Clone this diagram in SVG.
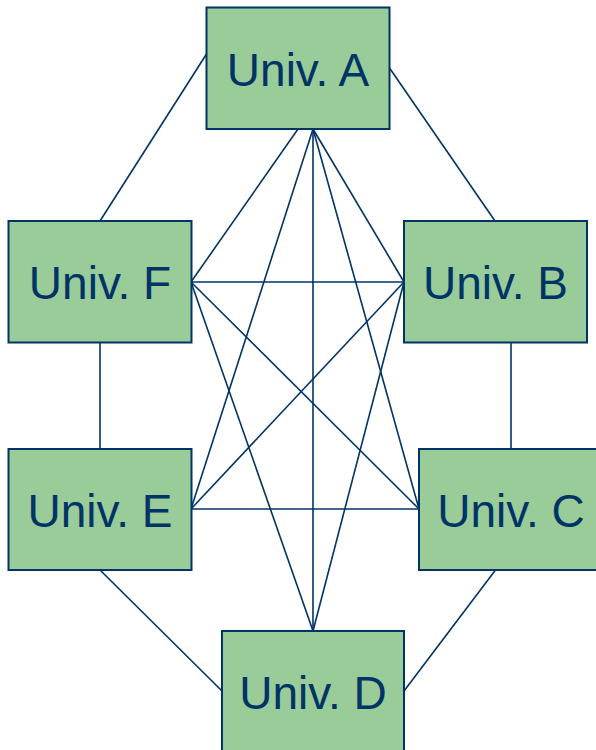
<svg xmlns="http://www.w3.org/2000/svg" width="596" height="750" viewBox="0 0 596 750">
<style>
.box{fill:#99CC99;stroke:#003366;stroke-width:2}
.lbl{font-family:"Liberation Sans",Arial,sans-serif;font-size:46px;fill:#003366;text-anchor:middle}
.ln{stroke:#003366;stroke-width:1.6;fill:none}
</style>
<rect width="596" height="750" fill="#FFFFFF"/>
<g id="connectors" class="ln">
<line x1="206.5" y1="54" x2="100" y2="221"/>
<line x1="389.5" y1="68" x2="495" y2="221"/>
<line x1="100" y1="342.5" x2="100" y2="449"/>
<line x1="511" y1="342" x2="511" y2="449"/>
<line x1="100" y1="570" x2="222" y2="691"/>
<line x1="495.5" y1="570" x2="404" y2="691"/>
<line x1="313" y1="129" x2="191" y2="509"/>
<line x1="313" y1="129" x2="313" y2="631"/>
<line x1="313" y1="129" x2="419" y2="509"/>
<line x1="313" y1="129" x2="404" y2="282"/>
<line x1="298" y1="129" x2="191" y2="282"/>
<line x1="191" y1="282" x2="404" y2="282"/>
<line x1="191" y1="282" x2="419" y2="509"/>
<line x1="191" y1="282" x2="313" y2="631"/>
<line x1="404" y1="282" x2="191" y2="509"/>
<line x1="404" y1="282" x2="313" y2="631"/>
<line x1="191" y1="509" x2="419" y2="509"/>
</g>
<g id="nodeA"><rect class="box" x="206.5" y="7.5" width="183" height="121.5"/><text class="lbl" x="298" y="85.5">Univ. A</text></g>
<g id="nodeF"><rect class="box" x="8.5" y="221" width="183" height="121.5"/><text class="lbl" x="100" y="298.5">Univ. F</text></g>
<g id="nodeB"><rect class="box" x="404" y="221" width="183" height="121.5"/><text class="lbl" x="495.5" y="298.5">Univ. B</text></g>
<g id="nodeE"><rect class="box" x="8.5" y="449" width="183" height="121"/><text class="lbl" x="100" y="526.5">Univ. E</text></g>
<g id="nodeC"><rect class="box" x="419" y="449" width="184" height="121"/><text class="lbl" x="511" y="526.5">Univ. C</text></g>
<g id="nodeD"><rect class="box" x="222" y="631" width="182" height="121"/><text class="lbl" x="313" y="709">Univ. D</text></g>
</svg>
